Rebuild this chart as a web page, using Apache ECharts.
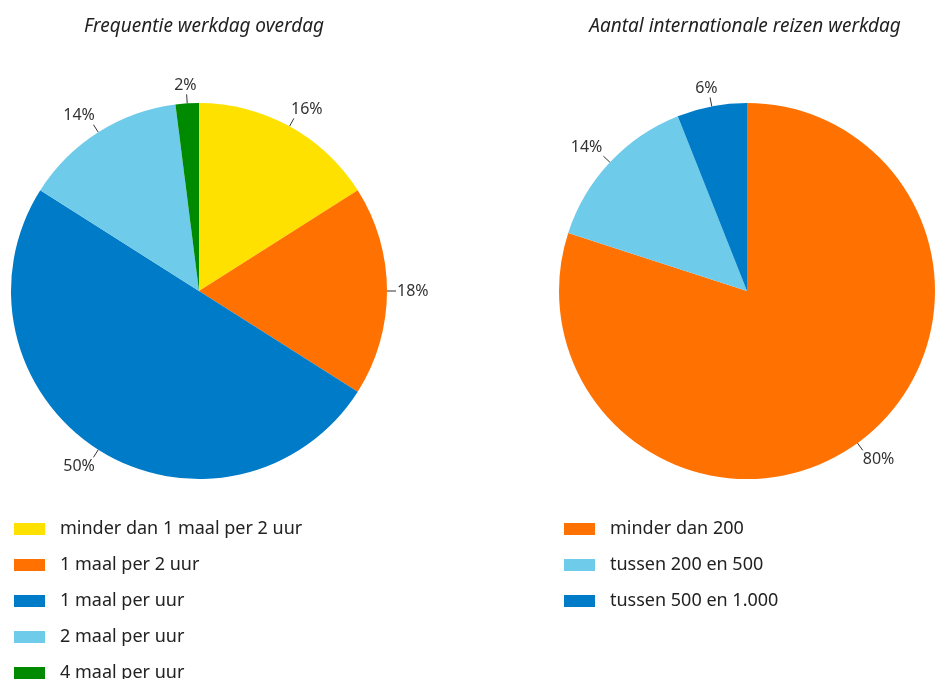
<!DOCTYPE html>
<html>
<head>
<meta charset="utf-8">
<script src="https://cdn.jsdelivr.net/npm/echarts@6/dist/echarts.min.js"></script>
<style>
  html, body { margin: 0; padding: 0; background: #fff; }
  #main { width: 935px; height: 679px; }
</style>
</head>
<body>
<div id="main"></div>
<script>
// frequentie werkdag overdag
var freqNames = ['minder dan 1 maal per 2 uur', '1 maal per 2 uur', '1 maal per uur', '2 maal per uur', '4 maal per uur']
var freqValues = [16, 18, 50, 14, 2]
var freqColors = ['#ffe100', '#ff7100', '#007bc7', '#6fcbea', '#008a00']

// aantal internationale reizen werkdag
var reisNames = ['minder dan 200', 'tussen 200 en 500', 'tussen 500 en 1.000']
var reisValues = [80, 14, 6]
var reisColors = ['#ff7100', '#6fcbea', '#007bc7']

var font = '"Noto Sans", sans-serif'

function toData(names, values, colors) {
    return names.map(function (n, i) {
        return { name: n, value: values[i], itemStyle: { color: colors[i] } }
    })
}

function clamp1(v) {
    return Math.max(-1, Math.min(1, v))
}

// tekst met de hoek/zijde tegen het eind van het lijntje
function radialLabel(params) {
    var pts = params.labelLinePoints
    if (!pts) return {}
    var dx = pts[1][0] - pts[0][0], dy = pts[1][1] - pts[0][1]
    var len = Math.sqrt(dx * dx + dy * dy) || 1
    dx /= len; dy /= len
    var hw = params.labelRect.width / 2 + 1, hh = params.labelRect.height / 2 + 1
    return {
        x: pts[1][0] + hw * clamp1(dx * 1.6),
        y: pts[1][1] + hh * clamp1(dy * 1.6),
        align: 'center',
        verticalAlign: 'middle',
        labelLinePoints: [pts[0], pts[1], pts[1]]
    }
}

function pieSeries(center, data) {
    return {
        type: 'pie',
        center: center,
        radius: 188,
        startAngle: 90,
        clockwise: true,
        silent: true,
        animation: false,
        data: data,
        label: {
            formatter: '{c}%',
            fontFamily: font,
            fontSize: 16,
            color: '#333'
        },
        labelLine: {
            show: true,
            length: 9,
            length2: 0,
            lineStyle: { color: '#333', width: 1 }
        },
        labelLayout: radialLabel
    }
}

function legend(left, names) {
    return {
        orient: 'vertical',
        left: left,
        top: 515,
        height: 200,
        data: names,
        icon: 'rect',
        itemWidth: 31,
        itemHeight: 12,
        itemGap: 18,
        selectedMode: false,
        textStyle: {
            fontFamily: font,
            fontSize: 18,
            color: '#222',
            padding: [0, 0, 0, 10]
        }
    }
}

var chart = echarts.init(document.getElementById('main'))
chart.setOption({
    backgroundColor: '#fff',
    title: [
        {
            text: 'Frequentie werkdag overdag',
            left: 199, top: 12, textAlign: 'center',
            textStyle: { fontFamily: font, fontSize: 19, fontStyle: 'italic', fontWeight: 'normal', color: '#222' }
        },
        {
            text: 'Aantal internationale reizen werkdag',
            left: 740, top: 12, textAlign: 'center',
            textStyle: { fontFamily: font, fontSize: 19, fontStyle: 'italic', fontWeight: 'normal', color: '#222' }
        }
    ],
    legend: [legend(9, freqNames), legend(559, reisNames)],
    series: [
        pieSeries([199, 291], toData(freqNames, freqValues, freqColors)),
        pieSeries([747, 291], toData(reisNames, reisValues, reisColors))
    ]
})
</script>
</body>
</html>
